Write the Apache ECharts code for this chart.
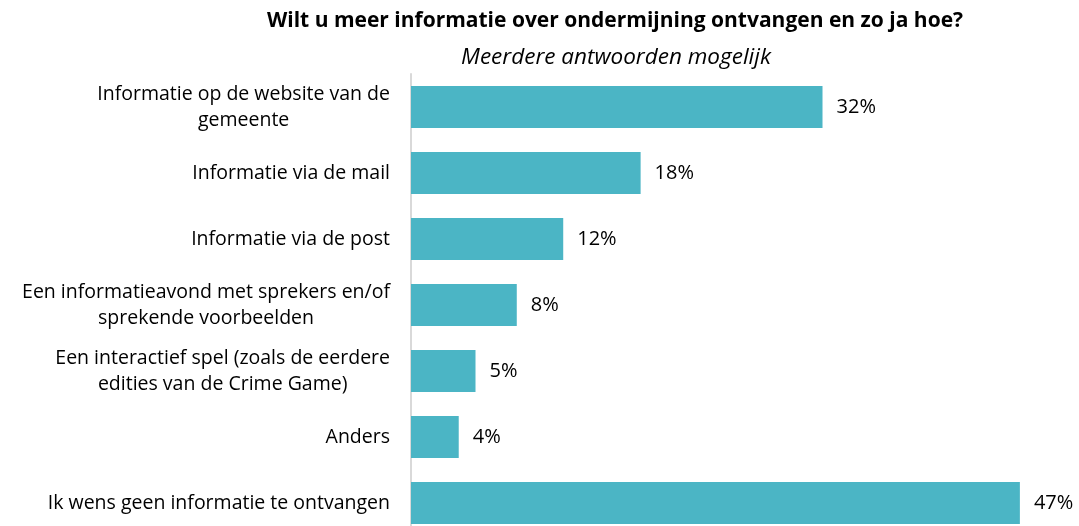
<!DOCTYPE html>
<html>
<head>
<meta charset="utf-8">
<script src="https://cdn.jsdelivr.net/npm/echarts@6/dist/echarts.min.js"></script>
<style>
html,body{margin:0;padding:0;background:#fff;}
#chart{width:1079px;height:526px;}
</style>
</head>
<body>
<div id="chart"></div>
<script>
const titleText = 'Wilt u meer informatie over ondermijning ontvangen en zo ja hoe?';
const subtitleText = 'Meerdere antwoorden mogelijk';
const categories = [
  'Informatie op de website van de\ngemeente',
  'Informatie via de mail',
  'Informatie via de post',
  'Een informatieavond met sprekers en/of\nsprekende voorbeelden',
  'Een interactief spel (zoals de eerdere\nedities van de Crime Game)',
  'Anders',
  'Ik wens geen informatie te ontvangen'
];
// labels show rounded percentages
const values = [31.9, 17.8, 11.8, 8.2, 5.0, 3.7, 47.2];

const FONT = 'Open Sans';
const chart = echarts.init(document.getElementById('chart'));
chart.setOption({
  animation: false,
  title: [
    {text: titleText, left: 610, top: 6, textAlign: 'center',
     textStyle: {fontFamily: FONT, fontWeight: 'bold', fontSize: 21, color: '#000'}},
    {text: subtitleText, left: 611, top: 41, textAlign: 'center',
     textStyle: {fontFamily: FONT, fontStyle: 'italic', fontWeight: 'normal', fontSize: 22.5, color: '#000'}}
  ],
  grid: {left: 411, top: 74, bottom: -10, right: 23, containLabel: false, outerBoundsMode: 'none'},
  xAxis: {type: 'value', min: 0, max: 50, show: false, splitLine: {show: false}},
  yAxis: {
    type: 'category', data: categories, inverse: true,
    axisLine: {show: true, lineStyle: {color: '#d9d9d9', width: 2}},
    axisTick: {show: false},
    axisLabel: {
      margin: 21, fontFamily: FONT, fontSize: 19.5, color: '#000', lineHeight: 26,
      formatter: function (v) {
        return v.split('\n').map(function (l) { return '{a|' + l + '}'; }).join('\n');
      },
      rich: {a: {align: 'center', fontFamily: FONT, fontSize: 19.5, color: '#000', lineHeight: 26}}
    }
  },
  series: [{
    type: 'bar', data: values, barWidth: 42,
    itemStyle: {color: '#4bb5c5'},
    label: {show: true, position: 'right', distance: 14,
            formatter: function (p) { return Math.round(p.value) + '%'; },
            fontFamily: FONT, fontSize: 20, color: '#000'}
  }]
});
</script>
</body>
</html>
